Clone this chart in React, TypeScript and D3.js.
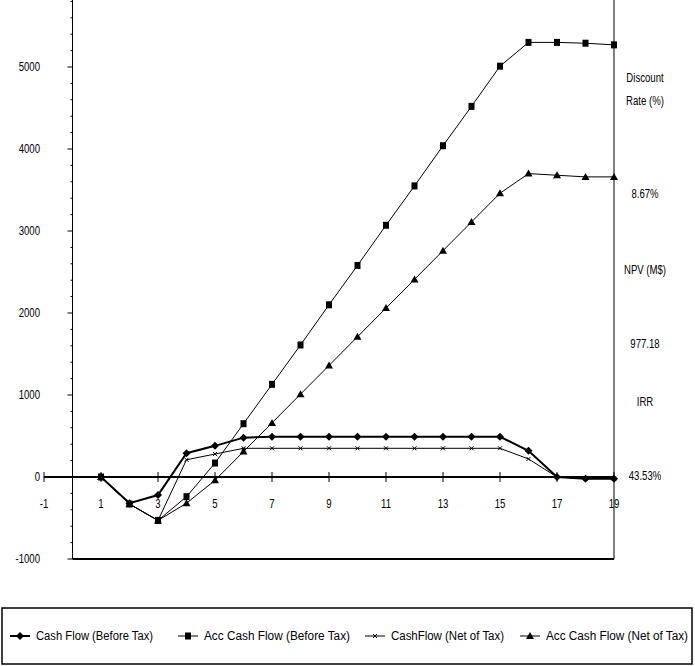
import * as d3 from 'd3';

const years = d3.range(1, 20);
const cfBefore = [0, -320, -220, 290, 380, 480, 490, 490, 490, 490, 490, 490, 490, 490, 490, 320, 0, -20, -20];
const accBefore = [0, -330, -530, -240, 170, 650, 1130, 1610, 2100, 2580, 3070, 3550, 4040, 4520, 5010, 5300, 5300, 5290, 5270];
const cfNet = [0, -330, -530, 210, 280, 350, 350, 350, 350, 350, 350, 350, 350, 350, 350, 220, 0, -20, -20];
const accNet = [0, -330, -530, -320, -40, 310, 660, 1010, 1360, 1710, 2060, 2410, 2760, 3110, 3460, 3700, 3680, 3660, 3660];
const xTicks = [-1, 1, 3, 5, 7, 9, 11, 13, 15, 17, 19];
const yTicks = [-1000, 0, 1000, 2000, 3000, 4000, 5000];
const sideText = [
  { t: 'Discount', y: 82 }, { t: 'Rate (%)', y: 105 }, { t: '8.67%', y: 198 },
  { t: 'NPV (M$)', y: 274 }, { t: '977.18', y: 348 }, { t: 'IRR', y: 406 }, { t: '43.53%', y: 480 },
];
const series = [
  { name: 'Cash Flow (Before Tax)', data: cfBefore, marker: 'diamond', w: 2 },
  { name: 'Acc Cash Flow (Before Tax)', data: accBefore, marker: 'square', w: 1 },
  { name: 'CashFlow (Net of Tax)', data: cfNet, marker: 'x', w: 1 },
  { name: 'Acc Cash Flow (Net of Tax)', data: accNet, marker: 'triangle', w: 1 },
];

const x = d3.scaleLinear().domain([-1, 19]).range([44, 614]);
const y = d3.scaleLinear().domain([-1000, 6000]).range([559, -15]);
const font = '"Liberation Sans Narrow", "Liberation Sans", Arial, sans-serif';

function Marker({ kind, cx, cy }: { kind: string; cx: number; cy: number }) {
  if (kind === 'diamond') return <path d={`M${cx},${cy - 4}L${cx + 4},${cy}L${cx},${cy + 4}L${cx - 4},${cy}Z`} fill="#000" />;
  if (kind === 'square') return <rect x={cx - 3} y={cy - 3.5} width={6} height={7} fill="#000" />;
  if (kind === 'triangle') return <path d={`M${cx},${cy - 4}L${cx + 4},${cy + 3}L${cx - 4},${cy + 3}Z`} fill="#000" />;
  return <path d={`M${cx - 2},${cy - 2}L${cx + 2},${cy + 2}M${cx + 2},${cy - 2}L${cx - 2},${cy + 2}`} stroke="#000" strokeWidth={1} />;
}

// narrow text: squeeze horizontally around its anchor point
function Narrow({ x0, y0, anchor, children }: { x0: number; y0: number; anchor: string; children: string }) {
  return (
    <text transform={`translate(${x0},${y0}) scale(0.8,1)`} fontSize={12} textAnchor={anchor}>{children}</text>
  );
}

export default function App() {
  const line = d3.line<number>().x((_, i) => x(years[i])).y(d => y(d));
  const minor = d3.range(-1000, 6000, 200);
  const legendX = [10, 178, 365, 520];
  const legendW = [117, 146, 113, 142];
  return (
    <svg width={695} height={666} style={{ position: 'absolute', left: 0, top: 0, background: '#fff' }} fontFamily={font}>
      <line x1={x(0)} x2={x(0)} y1={0} y2={y(-1000)} stroke="#000" />
      <line x1={x(0)} x2={x(19)} y1={y(-1000)} y2={y(-1000)} stroke="#000" strokeWidth={2} />
      <line x1={x(19)} x2={x(19)} y1={0} y2={y(-1000)} stroke="#000" />
      <line x1={x(-1)} x2={x(19)} y1={y(0)} y2={y(0)} stroke="#000" strokeWidth={2} />
      {minor.map(v => <line key={v} x1={x(0) - (v % 1000 === 0 ? 5 : 2)} x2={x(0)} y1={y(v)} y2={y(v)} stroke="#000" />)}
      {yTicks.map(v => <Narrow key={v} x0={40} y0={y(v) + 4} anchor="end">{String(v)}</Narrow>)}
      {xTicks.map(v => (
        <g key={v}>
          <line x1={x(v)} x2={x(v)} y1={y(0) - 5} y2={y(0) + 5} stroke="#000" />
          <Narrow x0={x(v)} y0={y(0) + 31} anchor="middle">{String(v)}</Narrow>
        </g>
      ))}
      {series.map(s => (
        <g key={s.name}>
          <path d={line(s.data) || ''} fill="none" stroke="#000" strokeWidth={s.w} />
          {s.data.map((v, i) => <Marker key={i} kind={s.marker} cx={x(years[i])} cy={y(v)} />)}
        </g>
      ))}
      {sideText.map(t => <Narrow key={t.t} x0={645} y0={t.y} anchor="middle">{t.t}</Narrow>)}
      <rect x={2} y={608} width={690} height={56} fill="none" stroke="#000" strokeWidth={1.5} />
      {series.map((s, i) => (
        <g key={s.name}>
          <line x1={legendX[i]} x2={legendX[i] + 20} y1={636} y2={636} stroke="#000" strokeWidth={s.w} />
          <Marker kind={s.marker} cx={legendX[i] + 10} cy={636} />
          <text x={legendX[i] + 26} y={640} fontSize={12} textLength={legendW[i]} lengthAdjust="spacingAndGlyphs">{s.name}</text>
        </g>
      ))}
    </svg>
  );
}
